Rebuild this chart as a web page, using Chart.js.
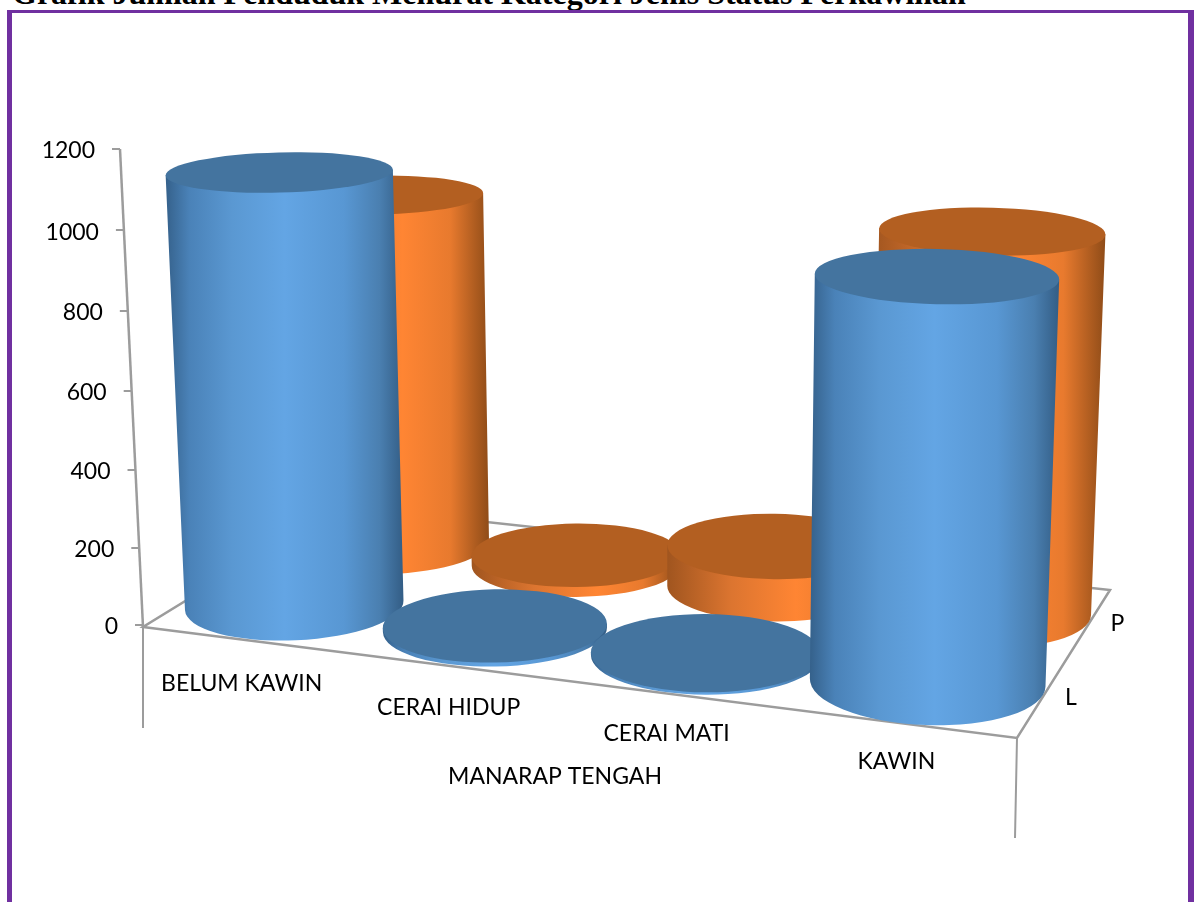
<!DOCTYPE html>
<html>
<head>
<meta charset="utf-8">
<title>Grafik Jumlah Penduduk</title>
<script src="https://cdn.jsdelivr.net/npm/chart.js@4/dist/chart.umd.js"></script>
<style>
  html, body { margin: 0; background: #fff; width: 1195px; height: 902px; overflow: hidden; }
  #judul {
    position: absolute; left: 12px; top: -22px; white-space: nowrap;
    font: bold 32px/30px "Liberation Serif", serif; color: #000;
  }
  #bingkai {
    position: absolute; left: 7px; top: 10px; width: 1176px; height: 900px;
    border: solid #7030a0; border-width: 3px 6px 0 5px;
  }
  #grafik { position: absolute; left: 0; top: 0; }
</style>
</head>
<body>
<div id="judul">Grafik Jumlah Penduduk Menurat Kategori Jenis Status Perkawinan</div>
<div id="bingkai"></div>
<canvas id="grafik" width="1195" height="902"></canvas>
<script>
const kategori = ['BELUM KAWIN', 'CERAI HIDUP', 'CERAI MATI', 'KAWIN'];
const nilaiL = [1120, 10, 6, 978];
const nilaiP = [970, 27, 111, 984];
const namaSeri = ['L', 'P'];
const judulSumbu = 'MANARAP TENGAH';
const tickMax = 1200;
const tickStep = 200;

const warna = {
  L: { atas: '#44749f', sisi: [[0, '#35618b'], [0.1, '#4a82b8'], [0.28, '#5a98d2'], [0.5, '#63a5e4'], [0.75, '#5897d3'], [0.9, '#4a7fb0'], [1, '#335d85']] },
  P: { atas: '#b35f21', sisi: [[0, '#a0551f'], [0.3, '#dc7530'], [0.6, '#ff8533'], [0.82, '#e87a2e'], [1, '#8f4c18']] }
};
const fontLabel = '23px Lato';
const garis = '#9c9c9c';

// lantai 3D: pojok depan-kiri, depan-kanan, belakang-kanan, belakang-kiri
const pojok = [[143, 627], [1017, 738], [1110, 590], [340, 506]];
const titikHilangX = 675;
const jarakHilang = 11000;

function buatProyeksi(p) {
  const [[x0, y0], [x1, y1], [x2, y2], [x3, y3]] = p;
  const dx1 = x1 - x2, dx2 = x3 - x2, sx = x0 - x1 + x2 - x3;
  const dy1 = y1 - y2, dy2 = y3 - y2, sy = y0 - y1 + y2 - y3;
  const den = dx1 * dy2 - dx2 * dy1;
  const g = (sx * dy2 - dx2 * sy) / den;
  const h = (dx1 * sy - sx * dy1) / den;
  const a = x1 - x0 + g * x1, b = x3 - x0 + h * x3;
  const d = y1 - y0 + g * y1, e = y3 - y0 + h * y3;
  return (u, v) => {
    const w = g * u + h * v + 1;
    return { x: (a * u + b * v + x0) / w, y: (d * u + e * v + y0) / w, s: 1 / w };
  };
}
const proyeksi = buatProyeksi(pojok);

const sumbuX = (py) => pojok[0][0] - (625 - py) * 23 / 476;

// sumbu nilai yang miring mengikuti dinding
class SumbuDinding extends Chart.LinearScale {
  static id = 'dinding';
  static defaults = Chart.LinearScale.defaults;
  getPixelForDecimal(d) {
    return super.getPixelForDecimal(d - 0.03 * d * (1 - d));
  }
  _computeLabelItems(area) {
    const items = super._computeLabelItems(area);
    items.forEach(it => {
      const [, y] = it.options.translation;
      it.options.translation = [sumbuX(y) - 25, y + 2];
    });
    return items;
  }
  _computeGridLineItems(area) {
    const items = super._computeGridLineItems(area);
    items.forEach(it => {
      const x = sumbuX(it.ty1);
      it.tx1 = x - 8;
      it.tx2 = x;
    });
    return items;
  }
}

// label kategori mengikuti tepi depan lantai
class SumbuLantai extends Chart.CategoryScale {
  static id = 'lantai';
  static defaults = Chart.CategoryScale.defaults;
  _computeLabelItems(area) {
    const items = super._computeLabelItems(area);
    items.forEach((it, i) => {
      const u = (this.getPixelForTick(i) - this.left) / this.width;
      const p = proyeksi(u, 0);
      it.options.translation = [p.x - 1, p.y + 44.5 - 6.5 * u];
      it.options.textBaseline = 'middle';
      it.textOffset = 0;
    });
    return items;
  }
}
Chart.register(SumbuDinding, SumbuLantai);

function silinder(ctx, u, v, nilai, skala, w) {
  const dasar = proyeksi(u, v);
  const h = (skala.bottom - skala.getPixelForValue(nilai)) * dasar.s;
  const rx = 112 * dasar.s;
  const f = h / jarakHilang;
  const atas = { x: dasar.x + (dasar.x - titikHilangX) * f, y: dasar.y - h, rx: rx * (1 + f) };
  const rasio = (y) => 0.12 + 0.00033 * y + 0.04 * Math.max(0, u - 0.5);
  const miring = (x, y) => (x - 660) * 0.00012 * rasio(y) / 0.32;
  const ryB = rx * rasio(dasar.y), ryA = atas.rx * rasio(atas.y);
  const tB = miring(dasar.x, dasar.y), tA = miring(atas.x, atas.y);

  const kiriA = [atas.x - atas.rx * Math.cos(tA), atas.y - atas.rx * Math.sin(tA)];
  const kananA = [atas.x + atas.rx * Math.cos(tA), atas.y + atas.rx * Math.sin(tA)];
  const kiriB = [dasar.x - rx * Math.cos(tB), dasar.y - rx * Math.sin(tB)];

  const grad = ctx.createLinearGradient(Math.min(kiriA[0], kiriB[0]), 0, Math.max(kananA[0], dasar.x + rx), 0);
  w.sisi.forEach(([o, c]) => grad.addColorStop(o, c));
  ctx.beginPath();
  ctx.moveTo(kiriA[0], kiriA[1]);
  ctx.lineTo(kiriB[0], kiriB[1]);
  ctx.ellipse(dasar.x, dasar.y, rx, ryB, tB, Math.PI, 0, true);
  ctx.lineTo(kananA[0], kananA[1]);
  ctx.closePath();
  ctx.fillStyle = grad;
  ctx.fill();

  ctx.beginPath();
  ctx.ellipse(atas.x, atas.y, atas.rx, ryA, tA, 0, Math.PI * 2);
  ctx.fillStyle = w.atas;
  ctx.fill();
}

const silinder3d = {
  id: 'silinder3d',
  beforeDatasetsDraw(chart) {
    const { ctx, scales: { x, y } } = chart;
    ctx.save();

    // lantai dan garis sumbu
    ctx.strokeStyle = garis;
    ctx.lineWidth = 2.5;
    ctx.beginPath();
    pojok.forEach(([px, py], i) => i ? ctx.lineTo(px, py) : ctx.moveTo(px, py));
    ctx.closePath();
    ctx.stroke();
    ctx.beginPath();
    ctx.moveTo(sumbuX(y.top), y.top);
    ctx.lineTo(sumbuX(y.bottom), y.bottom + 2);
    ctx.stroke();
    ctx.lineWidth = 2;
    ctx.beginPath();
    ctx.moveTo(pojok[0][0], pojok[0][1]);
    ctx.lineTo(pojok[0][0], pojok[0][1] + 101);
    ctx.moveTo(pojok[1][0], pojok[1][1]);
    ctx.lineTo(pojok[1][0] - 2, pojok[1][1] + 100);
    ctx.stroke();

    // seri belakang dulu, lalu seri depan, kiri ke kanan
    [1, 0].forEach(d => {
      const ds = chart.data.datasets[d];
      const v = (d + 0.5) / chart.data.datasets.length;
      ds.data.forEach((nilai, i) => {
        const u = (x.getPixelForValue(i) - x.left) / x.width;
        silinder(ctx, u, v, nilai, y, warna[ds.label]);
      });
    });

    // nama seri dan judul sumbu
    ctx.fillStyle = '#000';
    ctx.font = fontLabel;
    ctx.textAlign = 'center';
    ctx.textBaseline = 'middle';
    chart.data.datasets.forEach((ds, d) => {
      const p = proyeksi(1, (d + 0.5) / chart.data.datasets.length);
      ctx.fillText(ds.label, p.x + 28, p.y + 1);
    });
    ctx.fillText(judulSumbu, 555, 777);
    ctx.restore();
    return false;
  }
};

new Chart(document.getElementById('grafik'), {
  type: 'bar',
  data: {
    labels: kategori,
    datasets: [
      { label: namaSeri[0], data: nilaiL },
      { label: namaSeri[1], data: nilaiP }
    ]
  },
  plugins: [silinder3d],
  options: {
    responsive: false,
    animation: false,
    layout: { padding: { top: 149, right: 178, left: 0, bottom: 0 } },
    plugins: { legend: { display: false }, tooltip: { enabled: false } },
    scales: {
      x: {
        type: 'lantai',
        afterFit: (s) => { s.height = 277; },
        grid: { display: false },
        border: { display: false },
        ticks: { color: '#000', font: { family: 'Lato', size: 23 }, maxRotation: 0, autoSkip: false }
      },
      y: {
        type: 'dinding',
        min: 0,
        max: tickMax,
        afterFit: (s) => { s.width = 143; },
        grid: { drawOnChartArea: false, color: garis, lineWidth: 2, tickLength: 8 },
        border: { display: false },
        ticks: { stepSize: tickStep, format: { useGrouping: false }, color: '#000', font: { family: 'Lato', size: 23 } }
      }
    }
  }
});
</script>
</body>
</html>
